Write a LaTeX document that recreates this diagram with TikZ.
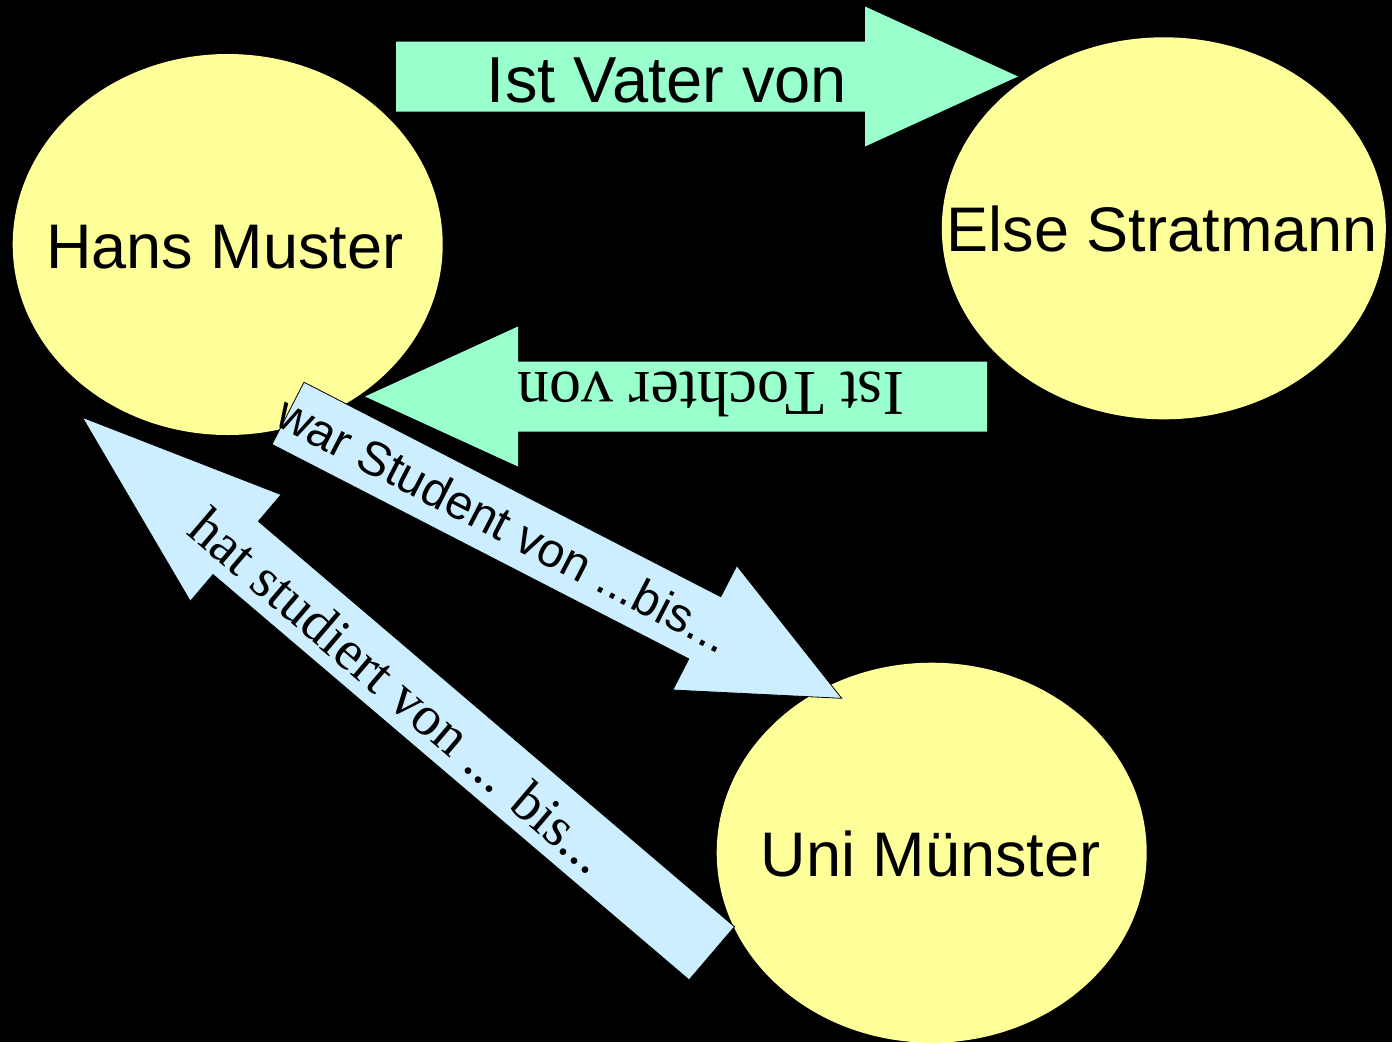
\documentclass[tikz,border=0pt]{standalone}
\usepackage{fontspec}
\setmainfont{Liberation Serif}
\setsansfont{Liberation Sans}
\usetikzlibrary{shapes.geometric}
\definecolor{nodeyellow}{HTML}{FFFF99}
\definecolor{relgreen}{HTML}{99FFCC}
\definecolor{relblue}{HTML}{CCEEFF}
\begin{document}
\begin{tikzpicture}[x=1pt,y=-1pt,
  entity/.style={ellipse, fill=nodeyellow, draw=none, inner sep=0pt},
  entitytext/.style={font=\sffamily\fontsize{63}{70}\selectfont, inner sep=0pt, anchor=base, text=black},
  greenarrow/.style={fill=relgreen, draw=none},
  bluearrow/.style={fill=relblue, draw=black, line width=0.8pt, line join=miter},
  reltext/.style={inner sep=0pt, anchor=base, text=black}]
\fill[black] (0,0) rectangle (1392,1042);
\useasboundingbox (0,0) rectangle (1392,1042);

% entities
\node[entity, minimum width=430pt, minimum height=381pt] (hans) at (227.7,244.5) {};
\node[entity, minimum width=444pt, minimum height=382pt] (else) at (1163.8,228.3) {};
\node[entity, minimum width=430pt, minimum height=380pt] (uni) at (931.7,852.7) {};

% relation arrows
\fill[greenarrow] (396,41.5) -- (865,41.5) -- (865,6.5) -- (1018,76.5) -- (865,146.5) -- (865,111.5) -- (396,111.5) -- cycle;
\fill[greenarrow] (987,361.5) -- (518,361.5) -- (518,326.5) -- (365,396.5) -- (518,466.5) -- (518,431.5) -- (987,431.5) -- cycle;
\filldraw[bluearrow] (304.0,382.2) -- (720.8,596.7) -- (736.8,565.6) -- (841.7,698.3) -- (672.8,690.0) -- (688.8,658.9) -- (272.0,444.4) -- cycle;
\filldraw[bluearrow] (734.5,926.7) -- (258.4,521.3) -- (281.1,494.6) -- (82.3,417.3) -- (190.3,601.2) -- (213.0,574.5) -- (689.1,979.9) -- cycle;

% entity labels
\node[entitytext] (hansT) at (224.7,268.3) {Hans Muster};
\node[entitytext] (elseT) at (1162.3,251.7) {Else Stratmann};
\node[entitytext] (uniT) at (930.5,876.7) {Uni Münster};

% relation labels
\node[reltext, font=\sffamily\fontsize{65}{70}\selectfont] (vaterT) at (667,102) {Ist Vater von};
\node[reltext, font=\rmfamily\fontsize{64}{70}\selectfont, rotate=180] (tochterT) at (711,372) {Ist Tochter von};
\node[reltext, font=\sffamily\fontsize{48}{50}\selectfont, rotate=-27.24] (warT) at (496.0,539.5) {war Student von ...bis...};
\node[reltext, font=\rmfamily\fontsize{56}{60}\selectfont, rotate=-40.41] (hatT) at (387,705) {hat studiert von ... bis...};
\end{tikzpicture}
\end{document}
